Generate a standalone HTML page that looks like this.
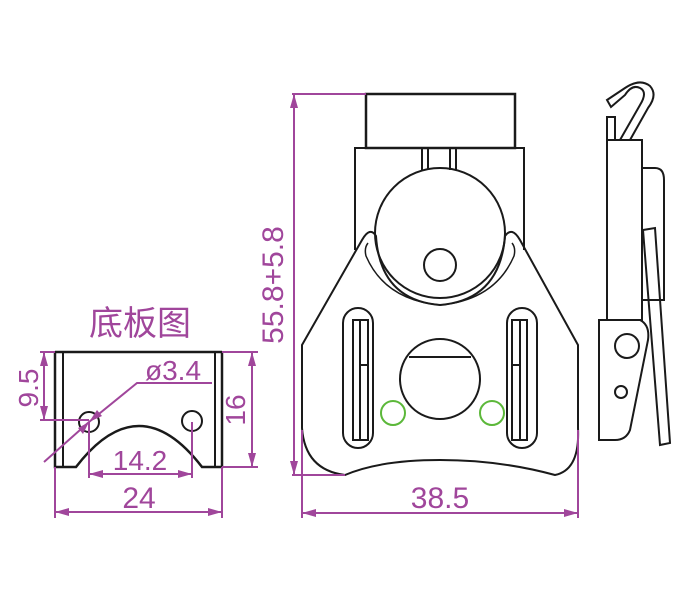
<!DOCTYPE html><html><head><meta charset="utf-8"><style>body{margin:0;background:#fff}svg{display:block}text{font-family:"Liberation Sans","Noto Sans CJK SC",sans-serif;fill:#a0469b}</style></head><body>
<svg width="700" height="600" viewBox="0 0 700 600" xmlns="http://www.w3.org/2000/svg">
<g fill="none" stroke="#1a1a1a" stroke-width="2">
<!-- plate -->
<path d="M55,352 H222 M55,352 V467 H76 Q139,385 202,467 H222 V352" stroke-width="2.5"/>
<line x1="63" y1="352" x2="63" y2="467"/><line x1="215" y1="352" x2="215" y2="467"/>
<circle cx="89" cy="422" r="10"/><circle cx="192" cy="421" r="10"/>
<!-- main -->
<rect x="366" y="94" width="149" height="54" stroke-width="2.5"/>
<path d="M355,250 V148 H524 V250"/>
<path d="M422,148 V170 M428,148 V170 M450,148 V170 M456,148 V170"/>
<circle cx="440" cy="233" r="65"/>
<circle cx="440" cy="265" r="16"/>
<path d="M302,345 L362,240 Q370,226 376,236 Q380,300 440,305 Q500,300 505,236 Q512,226 520,240 L578,345 V428 Q580,470 555,475 Q500,460 440,460 Q380,460 345,475 Q305,470 302,428 Z"/>
<path d="M368,243 Q364,248 366,256 Q385,300 440,305" stroke-width="1.5"/>
<path d="M512,243 Q516,248 514,256 Q495,300 440,305" stroke-width="1.5"/>
<rect x="343" y="308" width="30" height="140" rx="15"/>
<rect x="507" y="308" width="30" height="140" rx="15"/>
<rect x="353" y="320" width="15" height="120"/><line x1="360" y1="320" x2="360" y2="440"/><line x1="360" y1="365" x2="368" y2="365"/>
<rect x="512" y="320" width="15" height="120"/><line x1="520" y1="320" x2="520" y2="440"/><line x1="512" y1="365" x2="520" y2="365"/>
<circle cx="440" cy="379" r="40"/>
<line x1="409" y1="357" x2="471" y2="357"/>
<!-- side view -->
<rect x="607" y="117" width="8" height="23"/>
<rect x="607" y="140" width="35" height="180"/>
<path d="M620,140 L640,105 Q648,92 640,88 Q632,84 625,95 L611,107 L607,100 L625,88 Q640,78 650,86 Q658,95 648,108 L630,140"/>
<path d="M642,168 H655 Q664,168 664,180 V300 H642"/>
<path d="M643,230 L655,228 L670,443 L660,445 Z"/>
<path d="M599,320 H640 Q650,325 648,340 L630,430 Q626,440 615,440 H599 Z"/>
<circle cx="627" cy="346" r="12"/><circle cx="621" cy="392" r="6"/>
</g>
<g fill="none" stroke-width="2">
<circle cx="393" cy="413" r="12" stroke="#5cb83a"/><circle cx="492" cy="413" r="12" stroke="#5cb83a"/>
</g>
<g stroke="#a0469b" stroke-width="2" fill="#a0469b">
<line x1="292" y1="94" x2="366" y2="94"/><line x1="292" y1="475" x2="345" y2="475"/>
<line x1="294" y1="94" x2="294" y2="475"/>
<line x1="302" y1="430" x2="302" y2="518"/><line x1="578" y1="430" x2="578" y2="518"/>
<line x1="302" y1="513" x2="578" y2="513"/>
<line x1="55" y1="467" x2="55" y2="518"/><line x1="222" y1="467" x2="222" y2="518"/>
<line x1="55" y1="512" x2="222" y2="512"/>
<line x1="89" y1="422" x2="89" y2="478"/><line x1="192" y1="422" x2="192" y2="478"/>
<line x1="89" y1="474" x2="192" y2="474"/>
<line x1="222" y1="352" x2="258" y2="352"/><line x1="222" y1="467" x2="258" y2="467"/>
<line x1="252" y1="352" x2="252" y2="467"/>
<line x1="40" y1="352" x2="55" y2="352"/><line x1="40" y1="420" x2="89" y2="420"/>
<line x1="44" y1="352" x2="44" y2="420"/>
<polyline fill="none" points="44,462 89,422 137,383 212,383"/>
<path d="M294,94 l-4,14 h8z M294,475 l-4,-14 h8z M302,513 l14,-4 v8z M578,513 l-14,-4 v8z M55,512 l14,-4 v8z M222,512 l-14,-4 v8z M89,474 l14,-4 v8z M192,474 l-14,-4 v8z M252,352 l-4,14 h8z M252,467 l-4,-14 h8z M44,352 l-4,14 h8z M44,420 l-4,-14 h8z M89,422 l-6,12 l-5,-6z M89,422 l13,-6 l-5,-6z" stroke="none"/>
</g>
<text x="140" y="335" font-size="34" text-anchor="middle">底板图</text>
<text x="173" y="380" font-size="28" text-anchor="middle">ø3.4</text>
<text x="140" y="470" font-size="28" text-anchor="middle">14.2</text>
<text x="139" y="508" font-size="30" text-anchor="middle">24</text>
<text x="440" y="508" font-size="30" text-anchor="middle">38.5</text>
<text transform="translate(283,285) rotate(-90)" font-size="30" text-anchor="middle">55.8+5.8</text>
<text transform="translate(245,410) rotate(-90)" font-size="28" text-anchor="middle">16</text>
<text transform="translate(38,388) rotate(-90)" font-size="28" text-anchor="middle">9.5</text>
</svg></body></html>
